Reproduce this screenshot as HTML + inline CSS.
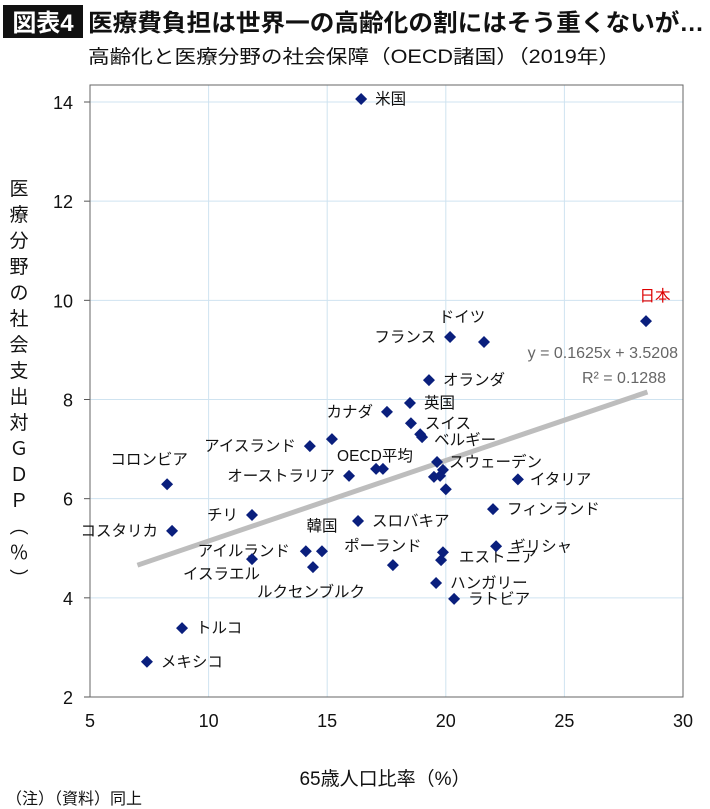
<!DOCTYPE html>
<html><head><meta charset="utf-8"><style>
body{margin:0;background:#fff;}
svg{display:block;font-family:"Liberation Sans","Noto Sans CJK JP",sans-serif;}
</style></head><body>
<svg id="c" width="710" height="809" viewBox="0 0 710 809">
<rect x="3" y="5" width="80" height="33" fill="#111"/>
<text x="43" y="31" font-size="24" font-weight="bold" fill="#fff" text-anchor="middle">図表4</text>
<text x="88" y="31" font-size="24" font-weight="bold" fill="#111" textLength="616" lengthAdjust="spacingAndGlyphs">医療費負担は世界一の高齢化の割にはそう重くないが…</text>
<text x="88" y="63" font-size="19" fill="#111" textLength="532" lengthAdjust="spacingAndGlyphs">高齢化と医療分野の社会保障（OECD諸国）（2019年）</text>
<g id="grid"></g>
<g id="ylab"></g>
<text x="385" y="785" font-size="19" text-anchor="middle" fill="#111">65歳人口比率（%）</text>
<text x="6" y="804" font-size="16" fill="#111">（注）（資料）同上</text>
<g id="marks"></g>
</svg>
<script>
const names=["米国","日本","ドイツ","フランス","オランダ","英国","カナダ","スイス","ベルギー","ベルギー2","アイスランド","アイスランド2","OECD平均","OECD平均2","オーストラリア","スウェーデン","スウェーデン2","スウェーデン3","スウェーデン4","スウェーデン5","イタリア","フィンランド","コロンビア","チリ","コスタリカ","韓国","アイルランド","イスラエル","ルクセンブルク","スロバキア","ポーランド","エストニア","エストニア2","ハンガリー","ラトビア","ギリシャ","トルコ","メキシコ"];
const xVals=[16.43,28.44,21.61,20.18,19.29,18.49,17.52,18.53,19.0,18.92,14.27,15.2,17.35,17.06,15.92,19.63,19.88,19.5,19.76,20.0,23.04,21.99,8.25,11.83,8.46,14.78,14.1,11.83,14.4,16.3,17.77,19.88,19.8,19.59,20.35,22.12,8.88,7.4];
const yVals=[14.06,9.58,9.16,9.26,8.39,7.93,7.75,7.52,7.24,7.3,7.06,7.2,6.6,6.6,6.46,6.74,6.58,6.44,6.46,6.19,6.39,5.79,6.29,5.67,5.35,4.94,4.94,4.78,4.62,5.55,4.66,4.92,4.76,4.3,3.98,5.04,3.39,2.71];
const labelText=["米国","日本","ドイツ","フランス","オランダ","英国","カナダ","スイス","ベルギー","","アイスランド","","OECD平均","","オーストラリア","スウェーデン","","","","","イタリア","フィンランド","コロンビア","チリ","コスタリカ","韓国","アイルランド","イスラエル","ルクセンブルク","スロバキア","ポーランド","エストニア","","ハンガリー","ラトビア","ギリシャ","トルコ","メキシコ"];
const lblDx=[14,9,-22,-14,14,14,-14,14,12,0,-14,0,-8,0,-14,12,0,0,0,0,12,14,-18,-14,-14,0,-16,8,-2,14,-10,16,0,14,14,14,14,14];
const lblDy=[5,-20,-20,5,5,5,5,5,8,0,5,0,-8,0,5,5,0,0,0,0,5,5,-20,5,5,-20,5,20,30,5,-14,10,0,5,5,5,5,5];
const lblAnchor=["s","m","m","e","s","s","e","s","s","s","e","s","m","s","e","s","s","s","s","s","s","s","m","e","e","m","e","e","m","s","m","s","s","s","s","s","s","s"];
const xTicks=[5,10,15,20,25,30];
const yTicks=[2,4,6,8,10,12,14];
const slope=0.1625, intercept=3.5208, trendX=[7,28.5];

const L=90,R=683,T=85,B=697;
const X=v=>L+(v-5)/25*(R-L);
const Y=v=>697-(v-2)/12*(697-102);
const NS="http://www.w3.org/2000/svg";
function mk(tag,attrs,parent,txt){const e=document.createElementNS(NS,tag);for(const k in attrs)e.setAttribute(k,attrs[k]);if(txt!==undefined)e.textContent=txt;parent.appendChild(e);return e;}
const g=document.getElementById('grid');
mk('rect',{x:L,y:T,width:R-L,height:B-T,fill:'#fff',stroke:'none'},g);
xTicks.forEach(t=>{
  if(t>5&&t<30){const l=mk('line',{x1:X(t),x2:X(t),y1:T,y2:B,stroke:'#cfe3f0','stroke-width':1},g);
  
  }
  const tx=mk('text',{x:X(t),y:727,'font-size':18,'text-anchor':'middle',fill:'#111'},g,String(t));
  
  
});
yTicks.forEach(t=>{
  if(t>2){const l=mk('line',{x1:L,x2:R,y1:Y(t),y2:Y(t),stroke:'#cfe3f0','stroke-width':1},g);
  
  }
  mk('line',{x1:L-6,x2:L,y1:Y(t),y2:Y(t),stroke:'#555'},g);
  const tx=mk('text',{x:73,y:Y(t)+7,'font-size':18,'text-anchor':'end',fill:'#111'},g,String(t));
  
  
});
mk('rect',{x:L,y:T,width:R-L,height:B-T,fill:'none',stroke:'#666','stroke-width':1},g);
const yl=document.getElementById('ylab');
[..."医療分野の社会支出対ＧＤＰ（％）"].forEach((ch,i)=>{
  mk('text',{x:19,y:195+i*26,'font-size':19,'text-anchor':'middle',fill:'#111',
  transform:(ch==='（'||ch==='）')?`rotate(90 19 ${188+i*26})`:''},yl,ch);
});
const m=document.getElementById('marks');
const tl=mk('line',{x1:X(trendX[0]),y1:Y(slope*trendX[0]+intercept),x2:X(trendX[1]),y2:Y(slope*trendX[1]+intercept),stroke:'#bdbdbd','stroke-width':5},m);


const eq=mk('text',{x:678,y:358,'font-size':16,'text-anchor':'end',fill:'#666'},m,'y = 0.1625x + 3.5208');


const r2=mk('text',{x:666,y:383,'font-size':16,'text-anchor':'end',fill:'#666'},m,'R² = 0.1288');


names.forEach((n,i)=>{
  const cx=X(xVals[i]),cy=Y(yVals[i]);
  const p=mk('path',{d:`M${cx} ${cy-6}L${cx+6} ${cy}L${cx} ${cy+6}L${cx-6} ${cy}Z`,fill:'#0a1f7d'},m);
  
  
  if(labelText[i]){
    const a=lblAnchor[i]==='s'?'start':lblAnchor[i]==='e'?'end':'middle';
    const t=mk('text',{x:cx+lblDx[i],y:cy+lblDy[i],'font-size':15.5,'text-anchor':a,fill:n==='日本'?'#d00':'#111'},m,labelText[i]);
    
    
  }
});
</script>
</body></html>
